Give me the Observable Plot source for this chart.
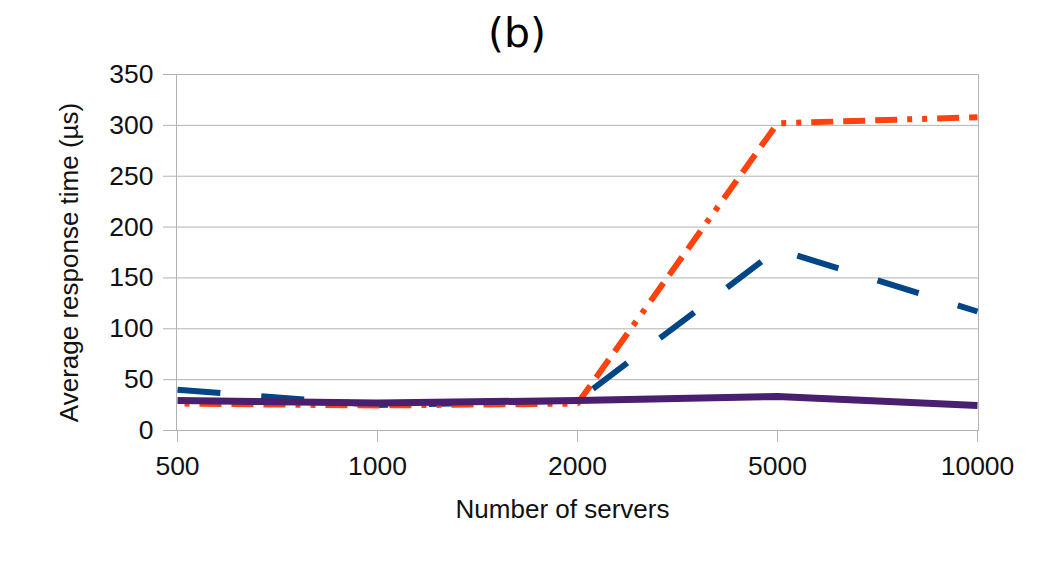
<!DOCTYPE html>
<html>
<head>
<meta charset="utf-8">
<script src="https://cdn.jsdelivr.net/npm/d3@7"></script>
<script src="https://cdn.jsdelivr.net/npm/@observablehq/plot@0.6"></script>
<style>
  html, body { margin: 0; padding: 0; background: #fff; }
  #wrap { position: relative; width: 1056px; height: 570px; overflow: hidden; }
  #title { position: absolute; left: 0; width: 1034px; top: 13px; text-align: center;
           font-family: "DejaVu Sans"; font-size: 41px; line-height: 41px; color: #000; }
  #chart { position: absolute; left: 0; top: 0; }
</style>
</head>
<body>
<div id="wrap">
  <div id="chart"></div>
  <div id="title">(b)</div>
</div>
<script>
const servers = ["500", "1000", "2000", "5000", "10000"];
const seriesOrange = [26.5, 24.6, 26.5, 302, 308];
const seriesBlue = [40, 25, 29.5, 178, 117];
const seriesPurple = [29.5, 27, 29.5, 33.4, 24.6];
const yTicks = [0, 50, 100, 150, 200, 250, 300, 350];

const toRows = (vals) => servers.map((s, i) => ({servers: s, value: vals[i]}));
const orange = toRows(seriesOrange);
const blue = toRows(seriesBlue);
const purple = toRows(seriesPurple);

const grid = "#b3b3b3";

const chart = Plot.plot({
  width: 1056,
  height: 570,
  marginLeft: 176,
  marginRight: 78,
  marginTop: 74,
  marginBottom: 140,
  style: {fontFamily: "Liberation Sans", background: "#fff", color: "#000"},
  x: {type: "point", domain: servers, padding: 0},
  y: {domain: [0, 350]},
  marks: [
    Plot.gridY(yTicks, {stroke: grid, strokeOpacity: 1, strokeWidth: 1}),
    Plot.frame({stroke: grid, strokeWidth: 1}),
    Plot.axisY(yTicks, {tickSize: 13, tickPadding: 10, fontSize: 26.5, stroke: grid, fill: "#111", label: null}),
    Plot.axisX(servers, {tickSize: 12, tickPadding: 14, fontSize: 26.5, stroke: grid, fill: "#111", label: null}),
    Plot.line(blue, {x: "servers", y: "value", stroke: "#004586", strokeWidth: 6,
      strokeDasharray: "43,41", strokeLinecap: "butt", strokeLinejoin: "miter"}),
    Plot.line(orange, {x: "servers", y: "value", stroke: "#ff420e", strokeWidth: 6,
      strokeDasharray: "22,10,22,10,22,10,5,10,5,10", strokeDashoffset: 104,
      strokeLinecap: "butt", strokeLinejoin: "miter"}),
    Plot.line(purple, {x: "servers", y: "value", stroke: "#4b1f6f", strokeWidth: 7,
      strokeLinecap: "butt", strokeLinejoin: "round"}),
    Plot.text(["Number of servers"], {frameAnchor: "bottom", textAnchor: "middle", dx: -15, dy: 87,
      fontSize: 26, fill: "#111"}),
    Plot.text(["Average response time (µs)"], {frameAnchor: "left", textAnchor: "middle", rotate: -90,
      dx: -107, dy: 10, fontSize: 26, fill: "#111"})
  ]
});
document.getElementById("chart").appendChild(chart);
</script>
</body>
</html>
